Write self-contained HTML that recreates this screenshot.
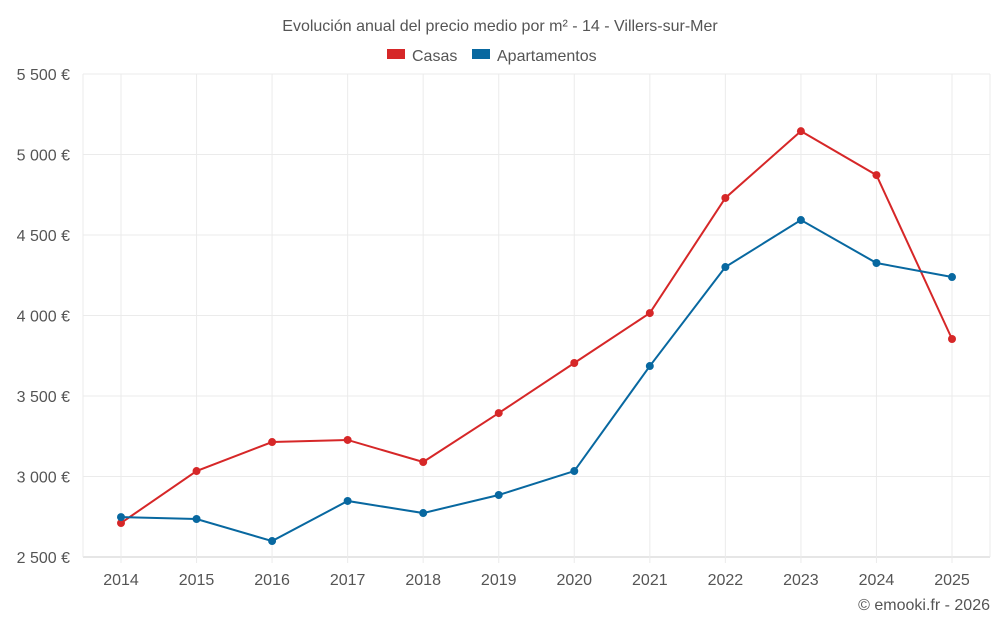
<!DOCTYPE html>
<html><head><meta charset="utf-8"><style>
body{margin:0;background:#fff;font-family:"Liberation Sans",sans-serif}
svg text{font-family:"Liberation Sans",sans-serif;fill:#555}
</style></head><body>
<svg id="c" width="1000" height="625">
<text x="500" y="31" text-anchor="middle" font-size="16">Evolución anual del precio medio por m² - 14 - Villers-sur-Mer</text>
<g>
<rect x="387" y="49" width="18" height="10" fill="#d62728"/>
<text x="412" y="61" font-size="16">Casas</text>
<rect x="472" y="49" width="18" height="10" fill="#0868a0"/>
<text x="497" y="61" font-size="16">Apartamentos</text>
</g>
<g id="grid"></g><g id="axes"></g><g id="series"></g>
<text x="990" y="610" text-anchor="end" font-size="16">© emooki.fr - 2026</text>
</svg>
<script>
const years=[2014,2015,2016,2017,2018,2019,2020,2021,2022,2023,2024,2025];
const casas=[2711,3034,3214,3227,3090,3394,3705,4015,4730,5145,4872,3854];
const apartamentos=[2748,2736,2599,2848,2773,2885,3034,3686,4301,4593,4326,4239];
const yTicks=[2500,3000,3500,4000,4500,5000,5500];
const yTickLabels=["2 500 €","3 000 €","3 500 €","4 000 €","4 500 €","5 000 €","5 500 €"];
const NS="http://www.w3.org/2000/svg";
const L=83,R=990,T=74,B=557;
const x=i=>121+i*(952-121)/(years.length-1);
const y=v=>B-(v-2500)/(5500-2500)*(B-T);
function mk(tag,a,p){const e=document.createElementNS(NS,tag);for(const k in a)e.setAttribute(k,a[k]);p.appendChild(e);return e;}
const g=document.getElementById('grid'),ax=document.getElementById('axes'),s=document.getElementById('series');
yTicks.forEach((v,i)=>{
 const l=mk('line',{x1:L,x2:R,y1:y(v),y2:y(v),stroke:i==0?'#ccc':'#ebebeb'},g);
 
 
 const t=mk('text',{x:70,y:y(v)+6,'text-anchor':'end','font-size':16},ax);
 t.textContent=yTickLabels[i];
 
 
});
[L,R].forEach(px=>{const l=mk('line',{x1:px,x2:px,y1:T,y2:B,stroke:'#ebebeb'},g);
 
 });
years.forEach((yr,i)=>{
 const l=mk('line',{x1:x(i),x2:x(i),y1:T,y2:B+6,stroke:'#ebebeb'},g);
 
 
 const t=mk('text',{x:x(i),y:585,'text-anchor':'middle','font-size':16},ax);
 t.textContent=yr;
 
 
});
function draw(data,color,name){
 const p=mk('polyline',{points:data.map((v,i)=>x(i)+','+y(v)).join(' '),fill:'none',stroke:color,'stroke-width':2},s);
 
 
 data.forEach((v,i)=>{const c=mk('circle',{cx:x(i),cy:y(v),r:4,fill:color},s);
  
  });
}
draw(casas,'#d62728','casas');
draw(apartamentos,'#0868a0','apartamentos');
</script>
</body></html>
